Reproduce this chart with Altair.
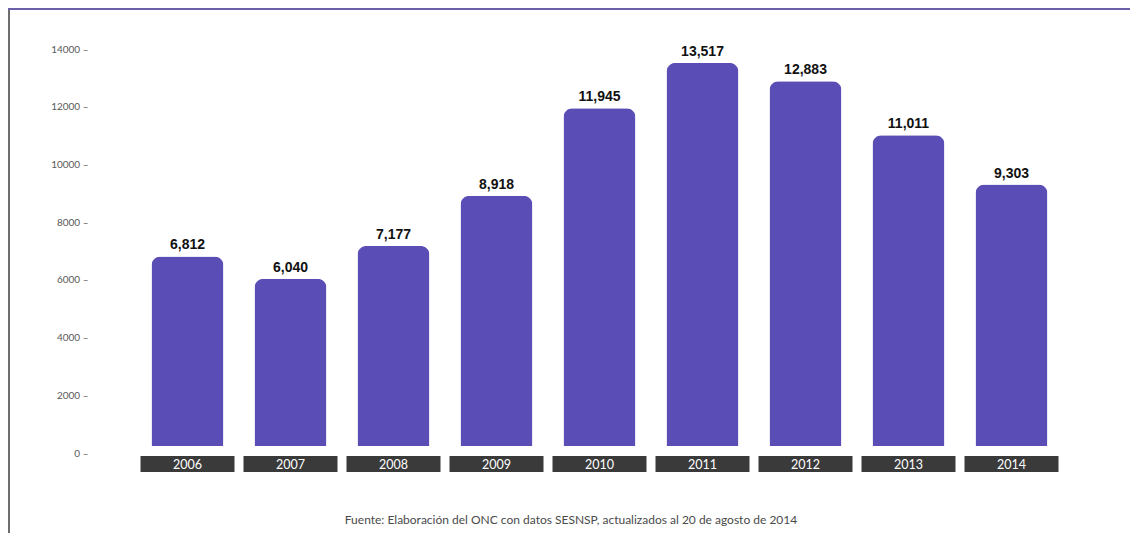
import altair as alt
import pandas as pd

years = ["2006", "2007", "2008", "2009", "2010", "2011", "2012", "2013", "2014"]
values = [6812, 6040, 7177, 8918, 11945, 13517, 12883, 11011, 9303]
y_ticks = [0, 2000, 4000, 6000, 8000, 10000, 12000, 14000]
source_text = "Fuente: Elaboración del ONC con datos SESNSP, actualizados al 20 de agosto de 2014"

df = pd.DataFrame({"year": years, "value": values})
df["label"] = [f"{v:,}" for v in values]

W, H = 927, 404
BAR = "#5a4eb6"

xs = alt.X("year:O", scale=alt.Scale(domain=years, paddingInner=0, paddingOuter=0), axis=None)
ys = alt.Scale(domain=[0, 14000], nice=False, zero=True)

base = alt.Chart(df)

bars = base.mark_bar(width=72, color=BAR, cornerRadiusTopLeft=9, cornerRadiusTopRight=9).encode(
    x=xs,
    y=alt.Y("value:Q", scale=ys,
            axis=alt.Axis(values=y_ticks, domain=False, ticks=False, grid=False, title=None,
                          labelExpr="format(datum.value, 'd') + ' –'",
                          labelPadding=48, labelFont="Lato", labelFontSize=10,
                          labelColor="#5a5a5a")),
)

# white gap between bars and year boxes
gap = base.mark_rect(color="white").encode(
    x=alt.value(0), x2=alt.value(W), y=alt.value(397), y2=alt.value(H + 1)
)

values_text = base.mark_text(dy=-7, baseline="alphabetic", font="Liberation Sans",
                             fontWeight="bold", fontSize=14, color="#111111").encode(
    x=xs, y=alt.Y("value:Q", scale=ys), text="label:N"
)

boxes = base.mark_bar(width=94, color="#3a3a3a").encode(
    x=xs, y=alt.value(407), y2=alt.value(423)
)

box_text = base.mark_text(baseline="middle", font="Lato", fontSize=12.5,
                          color="white").encode(
    x=xs, y=alt.value(415.5), text="year:N"
)

header = alt.Chart(pd.DataFrame({"a": [0]})).mark_rect(color="#6a5fa8").encode(
    x=alt.value(-128), x2=alt.value(995), y=alt.value(-41), y2=alt.value(-39)
)

left_border = alt.Chart(pd.DataFrame({"a": [0]})).mark_rect(color="#6e6e6e").encode(
    x=alt.value(-128), x2=alt.value(-126), y=alt.value(-39), y2=alt.value(486)
)

source = alt.Chart(pd.DataFrame({"t": [source_text]})).mark_text(
    font="Lato", fontSize=12, color="#4a4a4a", baseline="middle", align="center"
).encode(x=alt.value(435), y=alt.value(471), text="t:N")

chart = alt.layer(bars, gap, values_text, boxes, box_text, header, left_border, source).properties(
    width=W, height=H,
    autosize=alt.AutoSizeParams(type="none"),
    padding={"left": 128, "top": 41, "right": 67, "bottom": 80},
    background="white",
).configure_view(stroke=None)

chart.save("out.html", embed_options={"renderer": "svg", "actions": False})
